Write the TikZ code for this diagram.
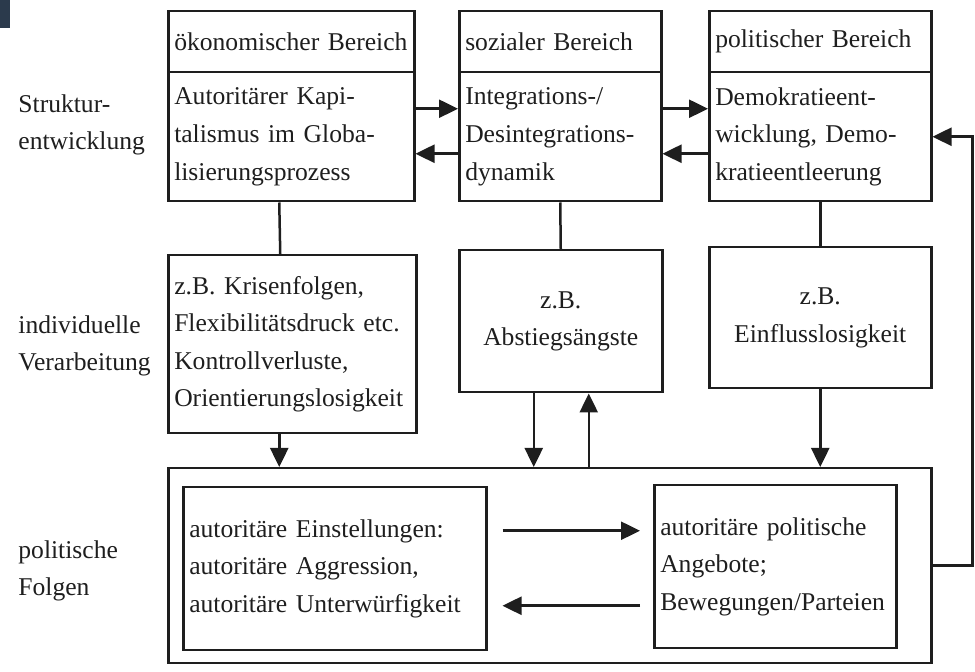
\documentclass[tikz,border=0pt]{standalone}
\usepackage{fontspec}
\setmainfont{Liberation Serif}
\usetikzlibrary{arrows.meta,positioning,calc}
\definecolor{ink}{HTML}{1E1E1E}
\definecolor{scan}{HTML}{2B3A4C}
\tikzset{
  >={Triangle[length=9.5pt,width=9pt]},
  box/.style={draw=ink,line width=1.25pt,anchor=north west,inner xsep=3pt,inner ysep=0pt,align=left,text=ink,font=\fontsize{12.8}{18.8}\selectfont},
  cbox/.style={box,align=center},
  lab/.style={anchor=west,align=left,inner sep=0pt,text=ink,font=\fontsize{12.8}{18.8}\selectfont},
  arr/.style={->,draw=ink,line width=1.25pt},
  ln/.style={draw=ink,line width=1.25pt},
}
\begin{document}
\begin{tikzpicture}[x=0.5pt,y=-0.5pt]
\useasboundingbox (0,0) rectangle (975,672);
\fill[scan] (0,0) rectangle (10,28);
\node[lab] (lstr) at (18,125) {Struktur-\\entwicklung};
\node[lab] (lind) at (18,346) {individuelle\\Verarbeitung};
\node[lab] (lpol) at (18,571) {politische\\Folgen};
\node[box,text width=117pt,minimum height=30.5pt] (ho) at (167,10) {ökonomischer~Bereich};
\node[box,text width=117pt,minimum height=64.5pt] (bo) at (167,71) {Autoritärer Kapi-\\talismus im Globa-\\lisierungsprozess};
\node[box,text width=95pt,minimum height=30.5pt] (hs) at (458,10) {sozialer Bereich};
\node[box,text width=95pt,minimum height=64.5pt] (bs) at (458,71) {Integrations-/\\Desintegrations-\\dynamik};
\node[box,text width=105pt,minimum height=30.5pt] (hp) at (708,10) {politischer Bereich};
\node[box,text width=105pt,minimum height=64.5pt] (bp) at (708,71) {Demokratieent-\\wicklung, Demo-\\kratieentleerung};
\node[box,text width=118pt,minimum height=89pt] (mo) at (167,254) {z.B. Krisenfolgen,\\Flexibilitätsdruck etc.\\Kontrollverluste,\\Orientierungslosigkeit};
\node[cbox,text width=95.5pt,minimum height=71pt] (ms) at (458,249) {z.B.\\Abstiegsängste};
\node[cbox,text width=105pt,minimum height=70.5pt] (mp) at (708,246) {z.B.\\Einflusslosigkeit};
\node[box,inner sep=0pt,minimum width=381.5pt,minimum height=97.5pt] (big) at (167,467) {};
\node[box,text width=145.5pt,minimum height=81.5pt] (einst) at (182,486) {autoritäre Einstellungen:\\autoritäre Aggression,\\autoritäre Unterwürfigkeit};
\node[box,text width=115pt,minimum height=81.5pt] (angeb) at (653,484) {autoritäre politische\\Angebote;\\Bewegungen/Parteien};
\foreach \u/\v in {bo/bs,bs/bp} {
  \draw[arr] ([yshift=14pt]\u.east) -- ([yshift=14pt]\v.west);
  \draw[arr] ([yshift=-8.5pt]\v.west) -- ([yshift=-8.5pt]\u.east);
}
\draw[ln] ([xshift=-6pt]bo.south) -- ([xshift=-6pt]mo.north);
\draw[ln] (bs.south) -- (ms.north);
\draw[ln] (bp.south) -- (mp.north);
\draw[arr] ([xshift=-6.5pt]mo.south) -- ([xshift=-6.5pt]mo.south |- big.north);
\draw[arr] ([xshift=-13.5pt]ms.south) -- ([xshift=-13.5pt]ms.south |- big.north);
\draw[arr] ([xshift=14pt]ms.south |- big.north) -- ([xshift=14pt]ms.south);
\draw[arr] (mp.south) -- (mp.south |- big.north);
\draw[arr] (big.east) -- ++(40,0) |- (bp.east);
\draw[arr] ([xshift=7.5pt,yshift=19pt]einst.east) -- ([xshift=-6.5pt,yshift=19pt]einst.east -| angeb.west);
\draw[arr] ([xshift=-6.5pt,yshift=-18.5pt]einst.east -| angeb.west) -- ([xshift=7.5pt,yshift=-18.5pt]einst.east);
\end{tikzpicture}
\end{document}
